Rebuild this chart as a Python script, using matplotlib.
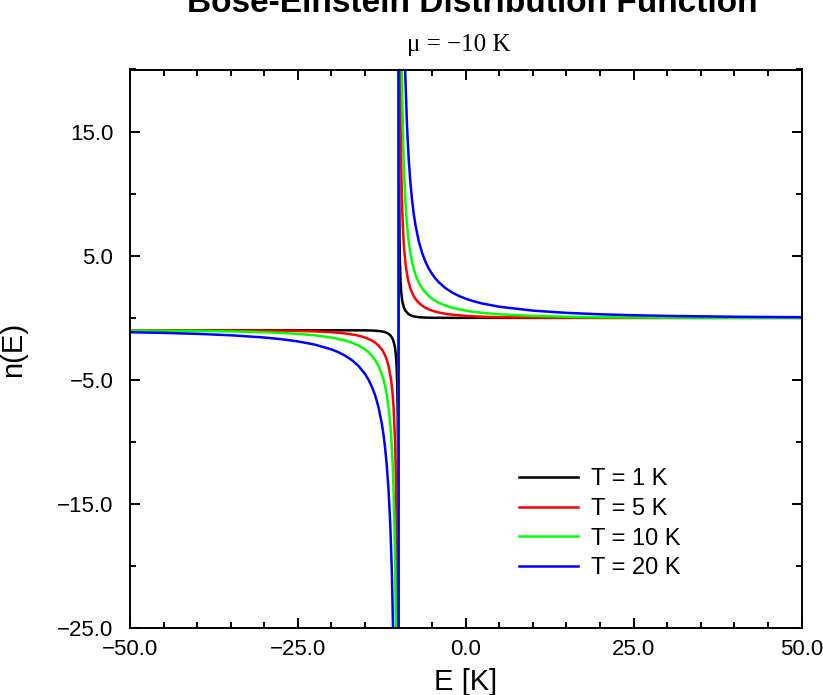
import numpy as np
import matplotlib
matplotlib.use("Agg")
import matplotlib.pyplot as plt
from matplotlib.ticker import FixedLocator, MultipleLocator, FuncFormatter

# Bose-Einstein occupation n(E), mu = -10 K
# (each curve jumps from -inf to +inf at E = mu)
e_t1 = [-50, -20, -15, -14, -13, -12.5, -12, -11.75, -11.5, -11.25, -11, -10.8, -10.6,
        -10.5, -10.4, -10.3, -10.2, -10.15, -10.1, -10.075, -10.05, -10.038, -10.01,
        -9.99, -9.962, -9.95, -9.925, -9.9, -9.85, -9.8, -9.7, -9.6, -9.5, -9.4, -9.2,
        -9, -8.5, -8, -7.5, -7, -6, -5, -4, 0, 50]
n_t1 = [-1.0, -1.0, -1.0068, -1.0187, -1.0524, -1.0894, -1.1565, -1.2104, -1.2872,
        -1.4016, -1.582, -1.816, -2.2164, -2.5415, -3.0332, -3.8582, -5.5167, -7.1791,
        -10.508, -13.84, -20.504, -26.82, -100.5,
        99.5, 25.82, 19.504, 12.84, 9.508, 6.179, 4.517, 2.858, 2.033, 1.5415, 1.2164,
        0.816, 0.582, 0.2872, 0.1565, 0.0894, 0.0524, 0.0187, 0.0068, 0.0025, 0.0, 0.0]

e_t5 = [-50, -40, -30, -25, -22.5, -20, -18.75, -17.5, -16.25, -16, -15, -14, -13.5, -13,
        -12.5, -12.25, -12, -11.75, -11.5, -11.125, -11, -10.875, -10.75, -10.5625, -10.5,
        -10.4375, -10.375, -10.3125, -10.25, -10.19, -10.01,
        -9.99, -9.81, -9.75, -9.6875, -9.625, -9.5625, -9.5, -9.4375, -9.375, -9.25,
        -9.125, -9, -8.875, -8.625, -8.5, -8.25, -8, -7.75, -7.5, -7.25, -7, -6.5, -6,
        -5.5, -5, -4.5, -4, -3, -2.5, 0, 2.5, 5, 10, 20, 30, 50]
n_t5 = [-1.0003, -1.0025, -1.0187, -1.0524, -1.0894, -1.1565, -1.2104, -1.2872,
        -1.4016, -1.431, -1.582, -1.816, -1.9865, -2.2164, -2.5415, -2.76, -3.0332,
        -3.386, -3.8582, -4.963, -5.5167, -6.229, -7.1791, -9.397, -10.508, -11.936,
        -13.84, -16.504, -20.504, -26.82, -500.5,
        499.5, 25.82, 19.504, 15.506, 12.84, 10.936, 9.508, 8.398, 7.51, 6.179, 5.229,
        4.517, 3.963, 3.159, 2.858, 2.386, 2.033, 1.7596, 1.5415, 1.3638, 1.2164,
        0.9864, 0.816, 0.6851, 0.582, 0.499, 0.431, 0.3273, 0.2872, 0.1565, 0.0894,
        0.0524, 0.0187, 0.0025, 0.0003, 0.0]

e_t10 = [-50, -40, -35, -30, -27.5, -25, -22.5, -20, -18, -17, -16, -15, -14.5, -14,
         -13.5, -13, -12.5, -12.25, -12, -11.75, -11.5, -11.25, -11.125, -11, -10.875,
         -10.75, -10.625, -10.5, -10.375, -10.01,
         -9.99, -9.625, -9.5, -9.375, -9.25, -9.125, -9, -8.875, -8.75, -8.5, -8.25, -8,
         -7.75, -7.5, -7.25, -7, -6.5, -6, -5.5, -5, -4.5, -4, -3, -2, -1, 0, 1, 2.5, 5,
         10, 15, 20, 30, 40, 50]
n_t10 = [-1.0187, -1.0524, -1.0894, -1.1565, -1.2104, -1.2872, -1.4016, -1.582,
         -1.816, -1.9865, -2.2164, -2.5415, -2.76, -3.0332, -3.386, -3.8582, -4.5208,
         -4.963, -5.5167, -6.229, -7.1791, -8.5083, -9.397, -10.508, -11.936, -13.84,
         -16.504, -20.504, -27.17, -1000.5,
         999.5, 26.17, 19.504, 15.506, 12.84, 10.936, 9.508, 8.398, 7.51, 6.179, 5.229,
         4.517, 3.963, 3.521, 3.159, 2.858, 2.386, 2.033, 1.7596, 1.5415, 1.3638,
         1.2164, 0.9864, 0.816, 0.6851, 0.582, 0.499, 0.4016, 0.2872, 0.1565, 0.0894,
         0.0524, 0.0187, 0.0068, 0.0025]

e_t20 = [-50, -45, -40, -35, -30, -27.5, -25, -22.5, -20, -19, -18, -17, -16, -15,
         -14.5, -14, -13.5, -13, -12.5, -12.25, -12, -11.75, -11.5, -11.25, -11, -10.75,
         -10.01,
         -9.99, -9.25, -9, -8.75, -8.5, -8.25, -8, -7.75, -7.5, -7, -6.5, -6, -5.5, -5,
         -4.5, -4, -3, -2, -1, 0, 1, 2.5, 5, 10, 15, 20, 25, 30, 40, 50]
n_t20 = [-1.1565, -1.2104, -1.2872, -1.4016, -1.582, -1.715, -1.8954, -2.1518,
         -2.5415, -2.76, -3.0332, -3.386, -3.8582, -4.5208, -4.963, -5.5167, -6.229,
         -7.1791, -8.5083, -9.397, -10.508, -11.936, -13.84, -16.504, -20.504, -27.17,
         -2000.5,
         1999.5, 26.17, 19.504, 15.506, 12.84, 10.936, 9.508, 8.398, 7.51, 6.179, 5.229,
         4.517, 3.963, 3.521, 3.159, 2.858, 2.386, 2.033, 1.7596, 1.5415, 1.3638,
         1.1517, 0.8954, 0.582, 0.4016, 0.2872, 0.2103, 0.1565, 0.0894, 0.0524]

labels = ["T = 1 K", "T = 5 K", "T = 10 K", "T = 20 K"]
colors = ["#000000", "#ff0000", "#00ff00", "#0000ff"]
xticks = [-50, -25, 0, 25, 50]
yticks = [-25, -15, -5, 5, 15]

plt.rcParams["font.family"] = ["Liberation Sans", "DejaVu Sans"]

fig = plt.figure(figsize=(8.23, 6.95), dpi=100)
ax = fig.add_axes([130 / 823, 1 - 628.3 / 695, 671.5 / 823, 558.8 / 695])

curves = [(e_t1, n_t1), (e_t5, n_t5), (e_t10, n_t10), (e_t20, n_t20)]
for (e, n), lab, c in zip(curves, labels, colors):
    ax.plot(e, n, color=c, lw=1.8, label=lab)

ax.set_xlim(-50, 50)
ax.set_ylim(-25, 20)

fmt = FuncFormatter(lambda v, p: ("%.1f" % v).replace("-", "\u2212"))
ax.xaxis.set_major_locator(FixedLocator(xticks))
ax.xaxis.set_minor_locator(MultipleLocator(5))
ax.yaxis.set_major_locator(FixedLocator(yticks))
ax.yaxis.set_minor_locator(MultipleLocator(5))
ax.xaxis.set_major_formatter(fmt)
ax.yaxis.set_major_formatter(fmt)

ax.tick_params(which="both", direction="in", top=True, right=True, width=1.4,
               labelsize=16)
ax.tick_params(which="major", length=7)
ax.tick_params(which="minor", length=4.3)
ax.tick_params(axis="x", pad=8)
ax.tick_params(axis="y", pad=12)
for s in ax.spines.values():
    s.set_linewidth(1.4)

leg = ax.legend(loc="upper left", bbox_to_anchor=(0.579, 0.286), frameon=False,
                fontsize=17, handlelength=2.5, handletextpad=0.55, labelspacing=0.32,
                borderpad=0, borderaxespad=0)

fig.text(472 / 823, 1 - 12 / 695, "Bose-Einstein Distribution Function",
         ha="center", va="baseline", fontsize=24, fontweight="bold")
fig.text(459 / 823, 1 - 50.7 / 695, "\u03bc = \u221210 K", ha="center", va="baseline",
         fontsize=18, family=["Liberation Serif", "DejaVu Serif"])
fig.text(466 / 823, 5 / 695, "E [K]", ha="center", va="baseline", fontsize=21)
fig.text(13 / 823, 1 - 349 / 695, "n(E)", ha="center", va="center", rotation=90,
         fontsize=21)

fig.savefig("out.png", dpi=100)
